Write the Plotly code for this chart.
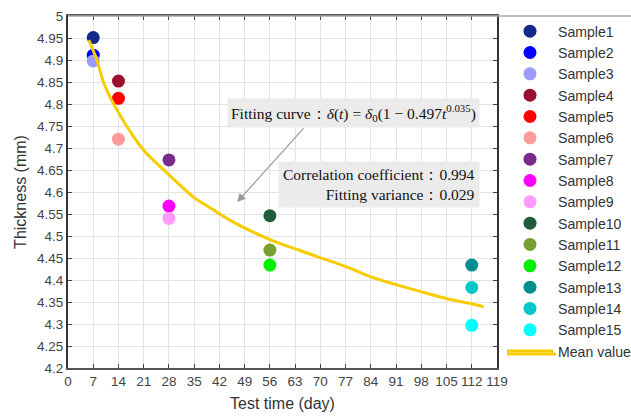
import plotly.graph_objects as go

# ---------------- data ----------------
sample_names = [f"Sample{i}" for i in range(1, 16)]
sample_days = [7, 7, 7, 14, 14, 14, 28, 28, 28, 56, 56, 56, 112, 112, 112]
sample_thickness = [4.951, 4.911, 4.898, 4.852, 4.813, 4.720, 4.673, 4.568, 4.540,
                    4.546, 4.468, 4.434, 4.434, 4.383, 4.297]
sample_colors = ["#15298a", "#0000ff", "#9a9aff", "#9b1030", "#ff0000", "#ff9a9a",
                 "#7a2a8a", "#ff00ff", "#ff9aff", "#1f5c3c", "#78a030", "#00f000",
                 "#008f8f", "#00c8c8", "#00ffff"]

mean_days = [5.8, 8.0, 10.0, 14.4, 21.0, 28.3, 34.7, 40.2, 46.0, 55.7, 64.3, 69.9,
             78.2, 84.0, 91.2, 98.1, 105.4, 112.0, 115.3]
mean_values = [4.945, 4.900, 4.846, 4.775, 4.695, 4.637, 4.589, 4.560, 4.531, 4.493,
               4.467, 4.451, 4.427, 4.407, 4.389, 4.373, 4.357, 4.346, 4.339]

x_ticks = list(range(0, 120, 7))
y_ticks = [4.2, 4.25, 4.3, 4.35, 4.4, 4.45, 4.5, 4.55, 4.6, 4.65, 4.7, 4.75, 4.8,
           4.85, 4.9, 4.95, 5.0]
y_ticktext = ["4.2", "4.25", "4.3", "4.35", "4.4", "4.45", "4.5", "4.55", "4.6",
              "4.65", "4.7", "4.75", "4.8", "4.85", "4.9", "4.95", "5"]

# ---------------- figure ----------------
fig = go.Figure()
for name, d, v, c in zip(sample_names, sample_days, sample_thickness, sample_colors):
    fig.add_trace(go.Scatter(x=[d], y=[v], mode="markers", name=name,
                             marker=dict(color=c, size=13, line=dict(width=0))))

MEAN_COLOR = "#f7cc00"
fig.add_trace(go.Scatter(x=mean_days, y=mean_values, mode="lines", name="Mean value",
                         line=dict(color=MEAN_COLOR, width=3, shape="spline",
                                   smoothing=0.8)))

SANS = "Liberation Sans, Arial, sans-serif"
SERIF = "Liberation Serif, Times New Roman, serif"

PL, PR, PT, PB = 68, 497, 16, 368  # plot area in pixels
PW, PH = PR - PL, PB - PT

fig.update_layout(
    width=631, height=417,
    margin=dict(l=PL, r=631 - PR, t=PT, b=417 - PB, autoexpand=False),
    paper_bgcolor="white", plot_bgcolor="white",
    showlegend=True,
    legend=dict(x=1 + 5 / PW, xanchor="left", y=1 + 0.5 / PH, yanchor="top",
                xref="paper", yref="paper", maxheight=410,
                bgcolor="rgba(0,0,0,0)", borderwidth=0,
                font=dict(family=SANS, size=14.1, color="#333333"),
                itemwidth=46, tracegroupgap=0),
    xaxis=dict(range=[0, 119], tickvals=x_ticks, ticks="inside", ticklen=4,
               tickcolor="#444", showgrid=True, gridcolor="#e3e3e3", gridwidth=1,
               showline=True, linecolor="#555", linewidth=1.5, mirror="ticks",
               zeroline=False, automargin=False,
               tickfont=dict(family=SANS, size=13.5, color="#444"),
               title=dict(text="Test time (day)", standoff=10,
                          font=dict(family=SANS, size=16, color="#333"))),
    yaxis=dict(range=[4.2, 5.0], tickvals=y_ticks, ticktext=y_ticktext,
               ticks="inside", ticklen=4, tickcolor="#444",
               showgrid=True, gridcolor="#e3e3e3", gridwidth=1,
               showline=True, linecolor="#333", linewidth=2, mirror="ticks",
               zeroline=False, automargin=False,
               tickfont=dict(family=SANS, size=13.5, color="#444"),
               title=dict(text="Thickness (mm)", standoff=6,
                          font=dict(family=SANS, size=16, color="#333"))),
)

# grey top border extending over the legend box
fig.add_shape(type="line", xref="paper", yref="paper", x0=0, x1=(631 - PL) / PW,
              y0=1, y1=1, line=dict(color="#a8a8a8", width=1.5), layer="above")
# longer legend line sample for "Mean value"
fig.add_shape(type="line", xref="paper", yref="paper",
              x0=(507 - PL) / PW, x1=(556 - PL) / PW,
              y0=(PB - 354) / PH, y1=(PB - 354) / PH,
              line=dict(color=MEAN_COLOR, width=3), layer="above")

# arrow pointing to the fitted curve
fig.add_annotation(
    x=46.9, y=4.577, xref="x", yref="y", ax=65.7, ay=4.748, axref="x", ayref="y",
    showarrow=True, arrowhead=2, arrowsize=1.4, arrowwidth=1.2, arrowcolor="#9a9a9a",
    text="", standoff=0, startstandoff=0)
fig.add_annotation(
    x=(480 - PL) / PW, y=4.780, xref="paper", yref="y", xanchor="right",
    yanchor="middle",
    text="Fitting curve：<i>δ</i>(<i>t</i>) = <i>δ</i><sub>0</sub>(1 − 0.497<i>t</i><sup>0.035</sup>)",
    showarrow=False, bgcolor="#ebebeb", borderpad=3,
    font=dict(family=SERIF, size=15.5, color="#111"))
fig.add_annotation(
    x=(480 - PL) / PW, y=4.617, xref="paper", yref="y", xanchor="right",
    yanchor="middle",
    text="Correlation coefficient：0.994<br>Fitting variance：0.029", align="right",
    showarrow=False, bgcolor="#ebebeb", borderpad=4,
    font=dict(family=SERIF, size=15.5, color="#111"))

fig.write_html("out.html", config={"displayModeBar": False},
               post_script="document.body.style.margin='0px';")
